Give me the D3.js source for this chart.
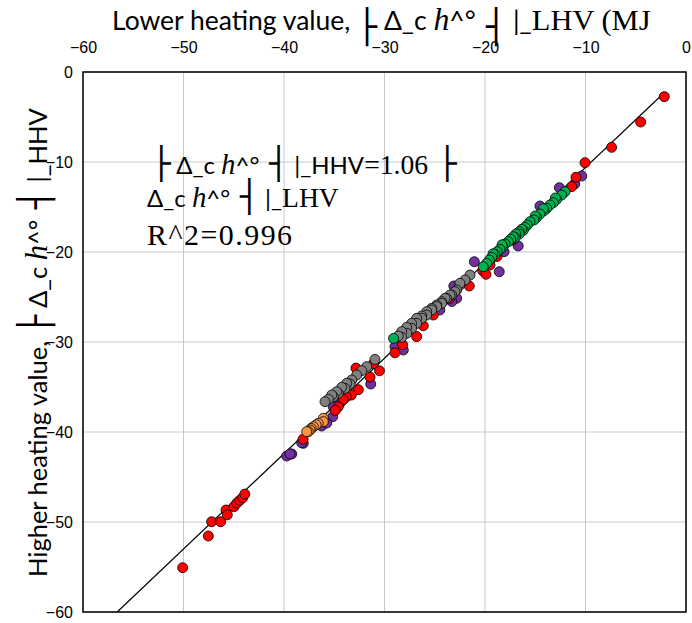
<!DOCTYPE html>
<html><head><meta charset="utf-8">
<script src="https://cdn.jsdelivr.net/npm/d3@7"></script>
<style>body{margin:0;background:#fff}</style>
</head><body>
<svg id="c" width="692" height="623"></svg>
<script>
const xTicks = [-60,-50,-40,-30,-20,-10,0];
const yTicks = [0,-10,-20,-30,-40,-50,-60];
const slope = 1.06;
const fitRange = [-56.6,-2.2];

const purple = [[-10.38,-11.56],[-11.07,-12.44],[-12.6,-12.86],[-14.53,-14.89],[-16.7,-19.33],[-18.1,-19.97],[-18.58,-22.19],[-21.06,-21.08],[-23.1,-23.78],[-22.82,-25.14],[-23.3,-25.5],[-24.5,-26.44],[-27.63,-28.48],[-28.96,-30.52],[-28.13,-30.89],[-31.37,-34.67],[-34.43,-36.8],[-34.6,-37.0],[-35.1,-37.2],[-35.15,-38.3],[-36.25,-39.33],[-35.75,-39.0],[-38.08,-41.26],[-38.24,-41.19],[-39.23,-42.44],[-39.73,-42.67],[-39.4,-42.44]];
const red = [[-2.16,-2.74],[-4.51,-5.56],[-7.4,-8.37],[-10.05,-10.08],[-10.95,-11.7],[-11.37,-12.74],[-17.24,-18.67],[-18.8,-20.5],[-19.5,-20.9],[-19.5,-21.44],[-20.23,-22.08],[-19.9,-22.48],[-21.56,-23.78],[-23.5,-25.14],[-25.14,-27.0],[-26.14,-28.2],[-26.8,-29.4],[-28.2,-30.3],[-28.96,-31.2],[-31.1,-32.4],[-30.5,-33.2],[-31.44,-33.9],[-32.84,-32.9],[-32.6,-35.3],[-33.3,-35.9],[-33.8,-36.1],[-34.1,-36.4],[-34.6,-37.2],[-34.9,-37.6],[-38.1,-40.8],[-50.08,-55.08],[-47.53,-51.56],[-47.2,-49.97],[-46.3,-49.97],[-45.77,-48.67],[-45.64,-49.2],[-44.98,-48.3],[-44.7,-47.9],[-44.4,-47.6],[-44.1,-47.3],[-43.9,-46.9]];
const gray = [[-21.49,-22.56],[-21.99,-23.11],[-22.49,-23.67],[-22.49,-23.48],[-22.82,-24.22],[-22.99,-24.41],[-23.31,-24.78],[-23.48,-24.78],[-23.81,-25.15],[-23.98,-25.15],[-24.31,-25.52],[-24.31,-25.7],[-24.81,-25.89],[-24.81,-26.07],[-25.3,-26.26],[-25.3,-26.44],[-25.8,-26.63],[-25.8,-27.0],[-26.3,-27.11],[-26.3,-27.37],[-26.8,-27.37],[-26.8,-27.93],[-27.3,-27.93],[-27.3,-28.48],[-27.79,-28.37],[-27.79,-29.04],[-28.29,-28.85],[-28.29,-29.48],[-28.63,-29.33],[-30.95,-31.93],[-31.77,-32.74],[-32.27,-33.19],[-32.77,-33.67],[-33.26,-34.22],[-33.43,-34.67],[-33.76,-34.59],[-33.93,-35.15],[-34.26,-35.04],[-34.6,-35.7],[-34.76,-35.52],[-35.09,-36.07],[-35.25,-35.89],[-35.59,-36.37],[-35.92,-36.63]];
const orange = [[-36.09,-38.48],[-36.09,-38.85],[-36.59,-39.04],[-36.8,-39.2],[-37.08,-39.41],[-37.3,-39.6],[-37.41,-39.78],[-37.58,-39.96],[-37.74,-39.96]];
const green = [[-12.04,-13.3],[-12.37,-13.67],[-12.87,-14.15],[-13.0,-14.0],[-13.2,-14.52],[-13.53,-14.78],[-13.86,-15.15],[-14.13,-15.41],[-14.2,-15.2],[-14.53,-15.78],[-14.86,-16.15],[-15.0,-16.0],[-15.12,-16.44],[-15.52,-16.63],[-15.79,-17.0],[-16.02,-17.26],[-16.2,-17.6],[-16.35,-17.48],[-16.59,-17.74],[-16.6,-18.0],[-16.92,-18.0],[-17.0,-18.4],[-17.18,-18.3],[-17.44,-18.59],[-17.68,-18.85],[-18.01,-19.11],[-18.24,-19.41],[-18.3,-19.2],[-18.51,-19.7],[-18.78,-19.96],[-19.0,-20.26],[-19.2,-20.2],[-19.33,-20.59],[-19.57,-20.89],[-19.83,-21.26],[-20.17,-21.63],[-29.1,-29.6]];

const series = [
  {data: purple, color: "#7030A0"},
  {data: red, color: "#FF0000"},
  {data: gray, color: "#808080"},
  {data: orange, color: "#F79646"},
  {data: green, color: "#00B050"}
];

const SANS = "Lato, 'Open Sans', sans-serif";
const SERIF = "'Liberation Serif', 'DejaVu Serif', serif";
const BOX = "'DejaVu Sans', sans-serif";
const TICK = "'Liberation Sans', Arial, sans-serif";

const svg = d3.select("#c");
const x = d3.scaleLinear().domain([-60,0]).range([83,686]);
const y = d3.scaleLinear().domain([0,-60]).range([72,612]);

// gridlines
const g = svg.append("g");
g.selectAll(".gx").data(xTicks).join("line")
  .attr("x1", d=>x(d)).attr("x2", d=>x(d)).attr("y1", y(0)).attr("y2", y(-60))
  .attr("stroke", "#c8c8c8").attr("stroke-width", 1);
g.selectAll(".gy").data(yTicks).join("line")
  .attr("y1", d=>y(d)).attr("y2", d=>y(d)).attr("x1", x(-60)).attr("x2", x(0))
  .attr("stroke", "#c8c8c8").attr("stroke-width", 1);

// axes (labels only)
const xAxis = d3.axisTop(x).tickValues(xTicks).tickSize(0).tickPadding(0).tickFormat(d3.format("d"));
const xa = svg.append("g").attr("transform", `translate(0,${y(0)-19})`).call(xAxis);
xa.select(".domain").remove();
xa.selectAll("text").attr("font-family", TICK).attr("font-size", 16).attr("fill", "#000");
const yAxis = d3.axisLeft(y).tickValues(yTicks).tickSize(0).tickPadding(0).tickFormat(d3.format("d"));
const ya = svg.append("g").attr("transform", `translate(${x(-60)-10},0)`).call(yAxis);
ya.select(".domain").remove();
ya.selectAll("text").attr("font-family", TICK).attr("font-size", 16).attr("fill", "#000");

// plot border
svg.append("rect").attr("x", x(-60)).attr("y", y(0)).attr("width", x(0)-x(-60)).attr("height", y(-60)-y(0))
  .attr("fill", "none").attr("stroke", "#000").attr("stroke-width", 1.5);

// trend line
const line = d3.line().x(d=>x(d)).y(d=>y(slope*d));
svg.append("path").attr("d", line(fitRange)).attr("stroke", "#000").attr("stroke-width", 1.2).attr("fill", "none");

// points
series.forEach(s => {
  svg.append("g").selectAll("circle").data(s.data).join("circle")
    .attr("cx", d=>x(d[0])).attr("cy", d=>y(d[1])).attr("r", 5)
    .attr("fill", s.color).attr("stroke", "#000").attr("stroke-width", 0.8);
});

// mixed-font text helper
function rich(parent, segs, size, boxScale, boxShift) {
  boxScale = boxScale || 1.3; boxShift = boxShift || 0;
  const t = parent.append("text").attr("fill", "#000");
  let pending = 0;
  segs.forEach(([txt, kind]) => {
    const ts = t.append("tspan").text(txt);
    let dy = -pending; pending = 0;
    if (kind === "s") ts.attr("font-family", SANS).attr("font-size", size);
    if (kind === "r") ts.attr("font-family", SERIF).attr("font-size", size*1.15);
    if (kind === "i") ts.attr("font-family", SERIF).attr("font-style", "italic").attr("font-size", size*1.2);
    if (kind === "b") {
      ts.attr("font-family", BOX).attr("font-size", size*boxScale);
      dy += boxShift; pending = boxShift;
    }
    if (dy) ts.attr("dy", dy);
  });
  t.attr("xml:space", "preserve").style("white-space", "pre");
  return t;
}

// top title
rich(svg, [["Lower heating value, ","s"],["├","b"],[" Δ_c ","s"],["h","i"],["^°","s"],[" ┤","b"],[" |_","s"],["LHV (MJ","r"]], 26.5, 1.25, 8)
  .attr("x", 112).attr("y", 30);

// y title
rich(svg, [["Higher heating value, ","s"],["├","b"],[" Δ_c ","s"],["h","i"],["^°","s"],[" ┤","b"],[" |_HHV","s"]], 25.5)
  .attr("transform", "translate(47,577) rotate(-90)");

// annotation
rich(svg, [["├","b"],[" Δ_c ","s"],["h","i"],["^°","s"],[" ┤","b"],[" |_HHV","s"],["=1.06","r"],[" ├","b"]], 24)
  .attr("x", 152).attr("y", 174);
rich(svg, [["Δ_c ","s"],["h","i"],["^°","s"],[" ┤","b"],[" |_","s"],["LHV","r"]], 24)
  .attr("x", 147).attr("y", 207);
rich(svg, [["R^2=0.996","r"]], 26)
  .attr("x", 147).attr("y", 245).attr("letter-spacing", 1.5);
</script>
</body></html>
